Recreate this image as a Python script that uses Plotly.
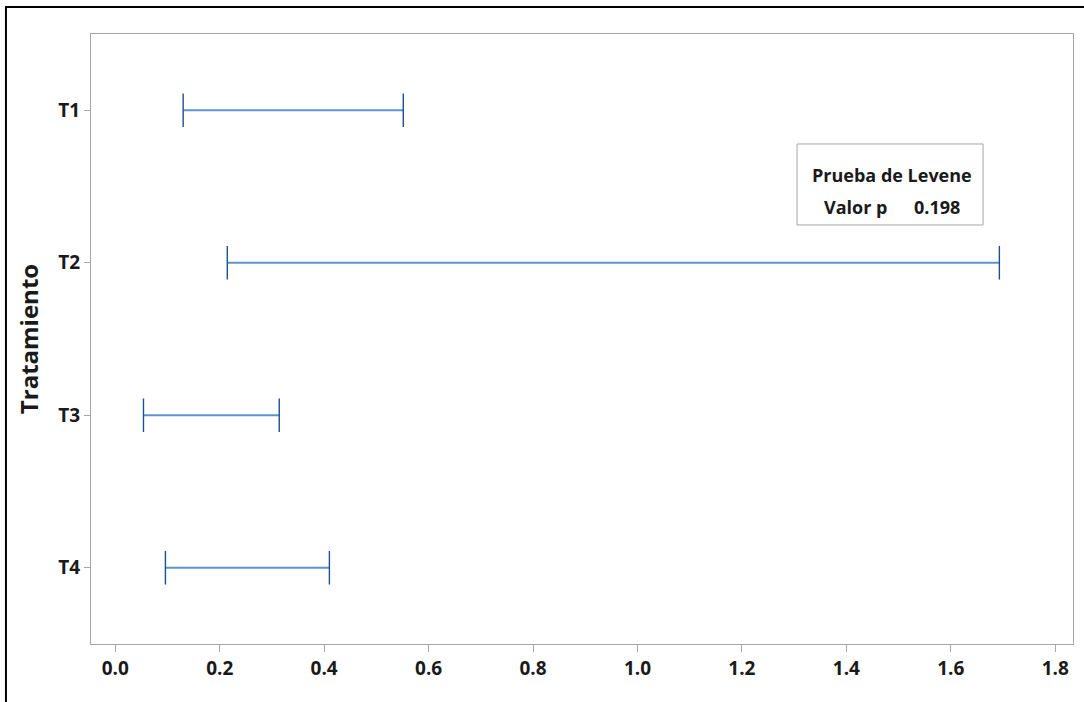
import plotly.graph_objects as go

# Intervalos de confianza (Bonferroni) de la desviación estándar por tratamiento
tratamientos = ["T1", "T2", "T3", "T4"]
limite_inferior = [0.130, 0.2145, 0.054, 0.096]
limite_superior = [0.5515, 1.693, 0.314, 0.410]
valor_p = 0.198
x_ticks = [0.0, 0.2, 0.4, 0.6, 0.8, 1.0, 1.2, 1.4, 1.6, 1.8]

LINE_COLOR = "#5b93d3"
CAP_COLOR = "#1d4f93"
AXIS_GREY = "#a6a6a6"
FONT = "Open Sans"

fig = go.Figure()

for t, lo, hi in zip(tratamientos, limite_inferior, limite_superior):
    # horizontal interval line
    fig.add_trace(go.Scatter(
        x=[lo, hi], y=[t, t], mode="lines",
        line=dict(color=LINE_COLOR, width=2),
        hoverinfo="skip", showlegend=False,
    ))
    # end caps
    fig.add_trace(go.Scatter(
        x=[lo, hi], y=[t, t], mode="markers",
        marker=dict(symbol="line-ns", size=24,
                    line=dict(color=CAP_COLOR, width=1.4)),
        hoverinfo="skip", showlegend=False,
    ))

fig.update_layout(
    width=1084, height=702,
    margin=dict(l=91, r=11, t=34, b=58),
    paper_bgcolor="white", plot_bgcolor="white",
    font=dict(family=FONT, color="#1a1a1a"),
    xaxis=dict(
        range=[-0.0465, 1.834],
        tickvals=x_ticks,
        ticktext=[f"{v:.1f}" for v in x_ticks],
        tickfont=dict(size=19, family=FONT, weight="bold"),
        showgrid=False, zeroline=False,
        showline=True, linecolor=AXIS_GREY, linewidth=1, mirror=True,
        ticks="outside", ticklen=7, tickcolor=AXIS_GREY, tickwidth=1,
    ),
    yaxis=dict(
        type="category",
        categoryorder="array", categoryarray=tratamientos,
        range=[3.5, -0.5],
        tickfont=dict(size=19, family=FONT, weight="bold"),
        showgrid=False, zeroline=False,
        showline=True, linecolor=AXIS_GREY, linewidth=1, mirror=True,
        ticks="outside", ticklen=6, tickcolor=AXIS_GREY, tickwidth=1,
        title=dict(text="Tratamiento", standoff=12,
                   font=dict(size=24, family=FONT, weight="bold")),
    ),
)

# outer frame
fig.add_shape(type="rect", xref="paper", yref="paper",
              x0=-0.0866, x1=1.05, y0=-0.2, y1=1.0443,
              line=dict(color="black", width=2), layer="above")

# Levene test box
fig.add_shape(type="rect", xref="paper", yref="paper",
              x0=0.719, x1=0.9084, y0=0.6869, y1=0.8197,
              line=dict(color=AXIS_GREY, width=1), fillcolor="white")
fig.add_annotation(xref="paper", yref="paper", x=0.8157, y=0.7689,
                   text="Prueba de Levene", showarrow=False,
                   xanchor="center", yanchor="middle",
                   font=dict(size=18, family=FONT, weight="bold"))
fig.add_annotation(xref="paper", yref="paper", x=0.7444, y=0.7164,
                   text="Valor p", showarrow=False,
                   xanchor="left", yanchor="middle",
                   font=dict(size=18, family=FONT, weight="bold"))
fig.add_annotation(xref="paper", yref="paper", x=0.836, y=0.7164,
                   text=f"{valor_p:.3f}", showarrow=False,
                   xanchor="left", yanchor="middle",
                   font=dict(size=18, family=FONT, weight="bold"))

fig.write_html("out.html")
